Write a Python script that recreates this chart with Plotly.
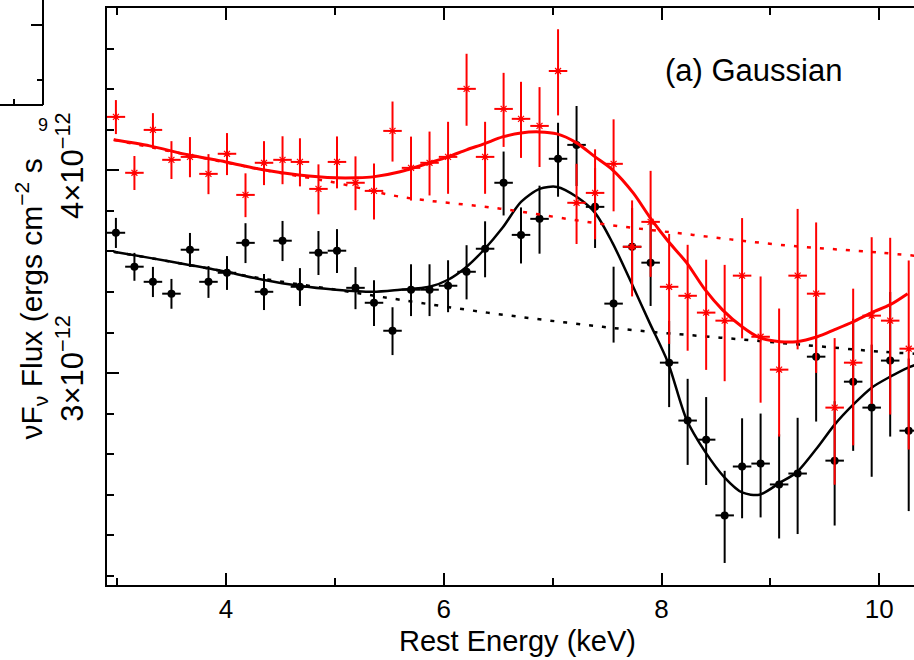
import math
import plotly.graph_objects as go

# ---------------- data (flux in units of 1e-12 erg cm^-2 s^-1) ----------------
energy = [2.99, 3.16, 3.33, 3.50, 3.67, 3.84, 4.01, 4.18, 4.35, 4.52, 4.68, 4.85,
          5.02, 5.19, 5.36, 5.53, 5.70, 5.87, 6.04, 6.21, 6.38, 6.55, 6.71, 6.88,
          7.05, 7.22, 7.39, 7.56, 7.73, 7.90, 8.07, 8.24, 8.41, 8.58, 8.74, 8.91,
          9.08, 9.25, 9.42, 9.59, 9.76, 9.93, 10.10, 10.27]
bin_halfwidth = 0.085

black_flux = [3.661, 3.489, 3.415, 3.358, 3.574, 3.415, 3.459, 3.609, 3.367, 3.620, 3.391, 3.559,
              3.569, 3.386, 3.315, 3.186, 3.377, 3.377, 3.396, 3.464, 3.579, 3.930, 3.650, 3.734,
              4.066, 4.147, 3.798, 3.311, 3.589, 3.509, 3.045, 2.805, 2.730, 2.452, 2.628, 2.639,
              2.562, 2.602, 3.071, 2.650, 2.964, 2.857, 3.054, 2.765]
black_err = [0.078, 0.069, 0.073, 0.071, 0.086, 0.077, 0.083, 0.102, 0.086, 0.103, 0.091, 0.111,
             0.111, 0.101, 0.108, 0.108, 0.124, 0.124, 0.125, 0.133, 0.142, 0.178, 0.145, 0.180,
             0.213, 0.235, 0.215, 0.178, 0.203, 0.209, 0.186, 0.171, 0.170, 0.160, 0.186, 0.194,
             0.189, 0.214, 0.270, 0.233, 0.277, 0.267, 0.312, 0.298]

red_flux = [4.315, 3.986, 4.236, 4.060, 4.077, 3.980, 4.095, 3.863, 4.043, 4.060, 4.048, 3.896,
            4.048, 3.930, 3.885, 4.230, 4.014, 4.043, 4.077, 4.490, 4.077, 4.364, 4.303, 4.260,
            4.605, 3.820, 3.874, 4.037, 3.589, 3.718, 3.391, 3.348, 3.269, 3.232, 3.445, 3.159,
            3.015, 3.445, 3.358, 2.857, 3.045, 3.255, 3.232, 3.106]
red_err = [0.104, 0.096, 0.102, 0.109, 0.116, 0.113, 0.122, 0.120, 0.126, 0.138, 0.138, 0.138,
           0.149, 0.150, 0.154, 0.180, 0.182, 0.183, 0.208, 0.229, 0.208, 0.229, 0.232, 0.241,
           0.281, 0.217, 0.247, 0.263, 0.244, 0.279, 0.264, 0.251, 0.255, 0.266, 0.293, 0.282,
           0.273, 0.342, 0.357, 0.296, 0.337, 0.383, 0.403, 0.414]

black_model_e = [2.97, 3.30, 3.65, 4.00, 4.34, 4.67, 5.01, 5.35, 5.60, 5.87, 6.04, 6.20, 6.37,
                 6.54, 6.71, 6.88, 7.04, 7.22, 7.39, 7.55, 7.74, 7.89, 8.06, 8.23, 8.40, 8.58,
                 8.74, 8.90, 9.09, 9.24, 9.43, 9.59, 9.76, 9.93, 10.10, 10.26, 10.36]
black_model_f = [3.564, 3.533, 3.499, 3.464, 3.425, 3.396, 3.377, 3.367, 3.377, 3.391, 3.425, 3.484, 3.574,
                 3.687, 3.825, 3.896, 3.907, 3.853, 3.766, 3.609, 3.391, 3.223, 3.045, 2.809, 2.684, 2.587,
                 2.533, 2.525, 2.569, 2.606, 2.699, 2.789, 2.869, 2.939, 2.985, 3.023, 3.040]

black_cont_e = [2.97, 3.65, 4.34, 5.01, 5.60, 6.40, 7.13, 7.80, 8.54, 9.27, 10.01, 10.32]
black_cont_f = [3.564, 3.499, 3.430, 3.377, 3.329, 3.269, 3.223, 3.186, 3.155, 3.124, 3.093, 3.084]

red_model_e = [2.97, 3.30, 3.65, 4.00, 4.34, 4.67, 5.01, 5.20, 5.35, 5.60, 5.87, 6.04, 6.21,
               6.37, 6.54, 6.71, 6.88, 7.04, 7.22, 7.39, 7.55, 7.74, 7.89, 8.05, 8.23, 8.40,
               8.56, 8.74, 8.90, 9.09, 9.24, 9.43, 9.59, 9.76, 9.93, 10.10, 10.26]
red_model_f = [4.177, 4.141, 4.089, 4.048, 4.003, 3.974, 3.958, 3.958, 3.963, 3.992, 4.043, 4.077, 4.118,
               4.153, 4.194, 4.218, 4.224, 4.212, 4.159, 4.077, 4.003, 3.874, 3.745, 3.625, 3.509, 3.377,
               3.282, 3.204, 3.155, 3.137, 3.137, 3.159, 3.191, 3.227, 3.269, 3.306, 3.358]

red_cont_e = [2.97, 3.65, 4.34, 5.01, 5.60, 6.52, 7.44, 8.29, 9.09, 10.01, 10.32]
red_cont_f = [4.177, 4.089, 4.003, 3.930, 3.853, 3.788, 3.708, 3.650, 3.599, 3.559, 3.544]

x_major = [4, 6, 8, 10]
x_minor = [3, 5, 7, 9]
y_major = [3.0, 4.0]
y_major_text = ["3×10<sup>−12</sup>", "4×10<sup>−12</sup>"]
UNIT = 1e-12

# ---------------- figure ----------------
W, H = 914, 660
L, R, T, B = 107, 0, 8, 75
pw, ph = W - L - R, H - T - B

def px(xp):
    return (xp - L) / pw

def py(yp):
    return (H - B - yp) / ph

FONT = "Liberation Sans, Arial, Helvetica, sans-serif"
fig = go.Figure()

def scale(v):
    return [a * UNIT for a in v]

# black data
fig.add_trace(go.Scatter(
    x=energy, y=scale(black_flux), mode="markers",
    marker=dict(symbol="circle", size=8, color="black"),
    error_x=dict(type="constant", value=bin_halfwidth, color="black", thickness=2, width=0),
    error_y=dict(type="data", array=scale(black_err), color="black", thickness=2, width=0),
    showlegend=False))
fig.add_trace(go.Scatter(x=black_cont_e, y=scale(black_cont_f), mode="lines",
                         line=dict(color="black", width=2.5, dash="4px,9px", shape="spline"),
                         showlegend=False))
fig.add_trace(go.Scatter(x=black_model_e, y=scale(black_model_f), mode="lines",
                         line=dict(color="black", width=2.5, shape="spline", smoothing=0.8),
                         showlegend=False))
# red data
fig.add_trace(go.Scatter(
    x=energy, y=scale(red_flux), mode="markers",
    marker=dict(symbol="asterisk-open", size=7, color="red", line=dict(color="red", width=1.2)),
    error_x=dict(type="constant", value=bin_halfwidth, color="red", thickness=2, width=0),
    error_y=dict(type="data", array=scale(red_err), color="red", thickness=2, width=0),
    showlegend=False))
fig.add_trace(go.Scatter(x=red_cont_e, y=scale(red_cont_f), mode="lines",
                         line=dict(color="red", width=2.5, dash="4px,9px", shape="spline"),
                         showlegend=False))
fig.add_trace(go.Scatter(x=red_model_e, y=scale(red_model_f), mode="lines",
                         line=dict(color="red", width=3, shape="spline", smoothing=0.8),
                         showlegend=False))

# y range (log) and evenly spaced minor ticks
y_lo, y_hi = 2.2215, 5.0355
ratio = (y_major[1] / y_major[0]) ** 0.2
v = y_major[0]
while v > y_lo:
    v /= ratio
y_cur = v * ratio
y_minor = []
while y_cur < y_hi * 0.999:
    if all(abs(y_cur - m) > 1e-3 for m in y_major):
        y_minor.append(y_cur * UNIT)
    y_cur *= ratio

fig.update_layout(
    width=W, height=H, margin=dict(l=L, r=R, t=T, b=B, pad=0),
    paper_bgcolor="white", plot_bgcolor="white",
    font=dict(family=FONT, color="black"),
    xaxis=dict(range=[2.9082, 10.3186], showgrid=False, zeroline=False,
               showline=True, linecolor="black", linewidth=2, mirror="ticks",
               ticks="inside", ticklen=12, tickwidth=2, tickcolor="black",
               tickmode="array", tickvals=x_major, ticktext=[str(t) for t in x_major],
               tickfont=dict(size=26, family=FONT),
               minor=dict(tickmode="array", tickvals=x_minor, ticks="inside", ticklen=7,
                          tickwidth=2, tickcolor="black", showgrid=False)),
    yaxis=dict(type="log", range=[math.log10(y_lo * UNIT), math.log10(y_hi * UNIT)],
               showgrid=False, zeroline=False,
               showline=True, linecolor="black", linewidth=2, mirror=False,
               ticks="inside", ticklen=12, tickwidth=2, tickcolor="black",
               tickmode="array", tickvals=scale(y_major), ticktext=y_major_text,
               tickangle=-90, tickfont=dict(size=31, family=FONT),
               ticklabelstandoff=10,
               minor=dict(tickmode="array", tickvals=y_minor, ticks="inside", ticklen=7,
                          tickwidth=2, tickcolor="black", showgrid=False)),
)

fig.add_annotation(text="Rest Energy (keV)", xref="paper", yref="paper",
                   x=px(517), y=py(641), xanchor="center", yanchor="middle",
                   showarrow=False, font=dict(size=29, family=FONT, color="black"))

fig.add_annotation(text="(a) Gaussian", xref="paper", yref="paper",
                   x=px(663), y=py(71), xanchor="left", yanchor="middle",
                   showarrow=False, font=dict(size=31, family=FONT, color="black"))

fig.add_annotation(text="νF<sub>ν</sub> Flux (ergs cm<sup>−2</sup> s",
                   xref="paper", yref="paper", x=px(31), y=py(442),
                   xanchor="center", yanchor="bottom", textangle=-90,
                   showarrow=False, font=dict(size=30, family=FONT, color="black"))

# remnant of the neighbouring panel (top-left corner)
lk = dict(color="black", width=2)
for (x0, y0, x1, y1) in [(43, -5, 43, 105), (-5, 105, 43, 105),
                         (31, 25, 43, 25), (37, 80, 43, 80), (14, 99, 14, 105)]:
    fig.add_shape(type="line", xref="paper", yref="paper",
                  x0=px(x0), y0=py(y0), x1=px(x1), y1=py(y1), line=lk)
fig.add_annotation(text="9", xref="paper", yref="paper", x=px(43), y=py(125),
                   xanchor="center", yanchor="middle", showarrow=False,
                   font=dict(size=18, family=FONT, color="black"))

fig.write_html("out.html")
